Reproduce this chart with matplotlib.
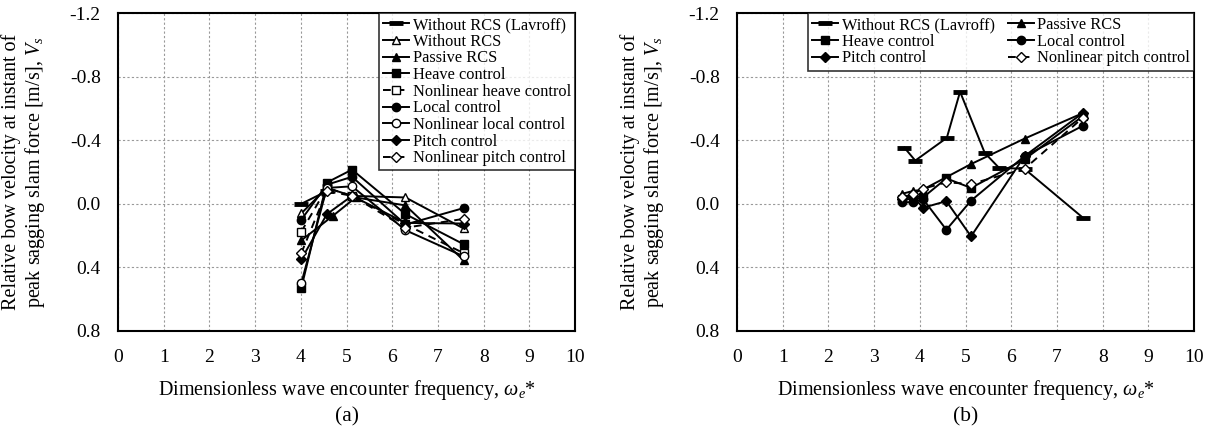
import matplotlib
matplotlib.use("Agg")
import matplotlib.pyplot as plt
from matplotlib.ticker import FuncFormatter

plt.rcParams['font.family'] = ['Liberation Serif', 'DejaVu Serif']
plt.rcParams['mathtext.fontset'] = 'custom'
plt.rcParams['mathtext.it'] = 'Liberation Serif:italic'
plt.rcParams['mathtext.rm'] = 'Liberation Serif'

# ---- panel (a) data ----
xa = [4.01, 4.57, 5.12, 6.29, 7.56]
xa_lavroff = [4.01, 4.57]
a_lavroff = [0.0, -0.08]
a_without = [0.06, -0.10, -0.05, -0.04, 0.155]
xa_passive = [4.01, 4.70, 5.20, 6.29, 7.56]
a_passive = [0.23, 0.076, -0.04, 0.01, 0.355]
a_heave = [0.53, -0.134, -0.215, 0.065, 0.254]
a_nl_heave = [0.175, -0.10, -0.05, 0.13, 0.31]
a_local = [0.10, -0.12, -0.17, 0.13, 0.027]
a_nl_local = [0.50, -0.10, -0.11, 0.166, 0.33]
a_pitch = [0.35, 0.065, -0.05, 0.12, 0.124]
a_nl_pitch = [0.31, -0.08, -0.05, 0.15, 0.095]

# ---- panel (b) data ----
xb_lavroff = [3.66, 3.90, 4.59, 4.88, 5.42, 5.73, 6.29, 7.57]
b_lavroff = [-0.354, -0.272, -0.415, -0.705, -0.32, -0.227, -0.22, 0.088]
xb_passive = [3.61, 3.84, 4.07, 5.12, 6.29, 7.56]
b_passive = [-0.063, -0.08, -0.09, -0.25, -0.41, -0.57]
xb = [3.61, 3.84, 4.07, 4.58, 5.12, 6.29, 7.56]
b_heave = [-0.03, -0.03, -0.04, -0.16, -0.10, -0.28, -0.55]
b_local = [-0.01, -0.01, -0.03, 0.163, -0.02, -0.30, -0.49]
b_pitch = [-0.03, -0.05, 0.025, -0.017, 0.205, -0.30, -0.57]
b_nl_pitch = [-0.04, -0.06, -0.095, -0.135, -0.125, -0.22, -0.54]

yticks = [-1.2, -0.8, -0.4, 0.0, 0.4, 0.8]
ylabel = 'Relative bow velocity at instant of\npeak sagging slam force [m/s], $V_s$'
xlabel = r'Dimensionless wave encounter frequency, $\omega_e$*'

lw = 1.4
ms = 6
common = dict(color='black', lw=lw, ms=ms, mec='black', mew=1.0)
lav = dict(color='black', lw=lw, marker='_', ms=10, mew=3.5)
legkw = dict(loc='upper right', fontsize=11.8, frameon=True, fancybox=False,
             edgecolor='black', borderaxespad=0, labelspacing=0.04,
             handlelength=1.6, handletextpad=0.2, borderpad=0.25)


def setup(ax, tag):
    ax.set_xlim(0, 10)
    ax.set_ylim(0.8, -1.2)
    ax.set_xticks(range(0, 11))
    ax.set_yticks(yticks)
    ax.yaxis.set_major_formatter(FuncFormatter(lambda v, p: '%.1f' % v))
    ax.grid(True, color='#999999', ls=(0, (2, 2)), lw=0.8)
    ax.tick_params(length=0, labelsize=14)
    ax.tick_params(axis='y', pad=12.5)
    ax.tick_params(axis='x', pad=13)
    for s in ax.spines.values():
        s.set_linewidth(1.5)
        s.set_color('black')
    ax.set_ylabel(ylabel, fontsize=14.5, linespacing=1.1)
    ax.yaxis.set_label_coords(-0.155, 0.5)
    ax.set_xlabel(xlabel, fontsize=14.5)
    ax.xaxis.label.set_va('center')
    ax.xaxis.set_label_coords(0.5, -0.186)
    ax.text(0.5, -0.27, tag, transform=ax.transAxes, ha='center', va='center', fontsize=15.5)


fig = plt.figure(figsize=(12.14, 4.32), dpi=100)
ax1 = fig.add_axes([0.0972, 0.2338, 0.3765, 0.736])
ax2 = fig.add_axes([0.6071, 0.2338, 0.3765, 0.736])

# panel (a)
ax1.plot(xa_lavroff, a_lavroff, label='Without RCS (Lavroff)', **lav)
ax1.plot(xa, a_without, marker='^', mfc='white', label='Without RCS', **common)
ax1.plot(xa_passive, a_passive, marker='^', mfc='black', label='Passive RCS', **common)
ax1.plot(xa, a_heave, marker='s', mfc='black', label='Heave control', **common)
ax1.plot(xa, a_nl_heave, marker='s', mfc='white', ls=(0, (4, 3)), label='Nonlinear heave control', **common)
ax1.plot(xa, a_local, marker='o', mfc='black', label='Local control', **common)
ax1.plot(xa, a_nl_local, marker='o', mfc='white', label='Nonlinear local control', **common)
ax1.plot(xa, a_pitch, marker='D', ms=5, mfc='black', color='black', lw=lw, mec='black',
         label='Pitch control')
ax1.plot(xa, a_nl_pitch, marker='D', ms=5, mfc='white', color='black', lw=lw, mec='black',
         ls=(0, (4, 3)), label='Nonlinear pitch control')
leg1 = ax1.legend(**legkw)
leg1.get_frame().set_linewidth(1.2)
setup(ax1, '(a)')

# panel (b)
h_lav, = ax2.plot(xb_lavroff, b_lavroff, label='Without RCS (Lavroff)', **lav)
h_pas, = ax2.plot(xb_passive, b_passive, marker='^', mfc='black', label='Passive RCS', **common)
h_hea, = ax2.plot(xb, b_heave, marker='s', mfc='black', label='Heave control', **common)
h_loc, = ax2.plot(xb, b_local, marker='o', mfc='black', label='Local control', **common)
h_pit, = ax2.plot(xb, b_pitch, marker='D', ms=5, mfc='black', color='black', lw=lw,
                  mec='black', label='Pitch control')
h_nlp, = ax2.plot(xb, b_nl_pitch, marker='D', ms=5, mfc='white', color='black', lw=lw,
                  mec='black', ls=(0, (4, 3)), label='Nonlinear pitch control')
leg2 = ax2.legend(handles=[h_lav, h_hea, h_pit, h_pas, h_loc, h_nlp], ncol=2,
                  columnspacing=0.8, **legkw)
leg2.get_frame().set_linewidth(1.2)
setup(ax2, '(b)')

fig.savefig('out.png', dpi=100)
